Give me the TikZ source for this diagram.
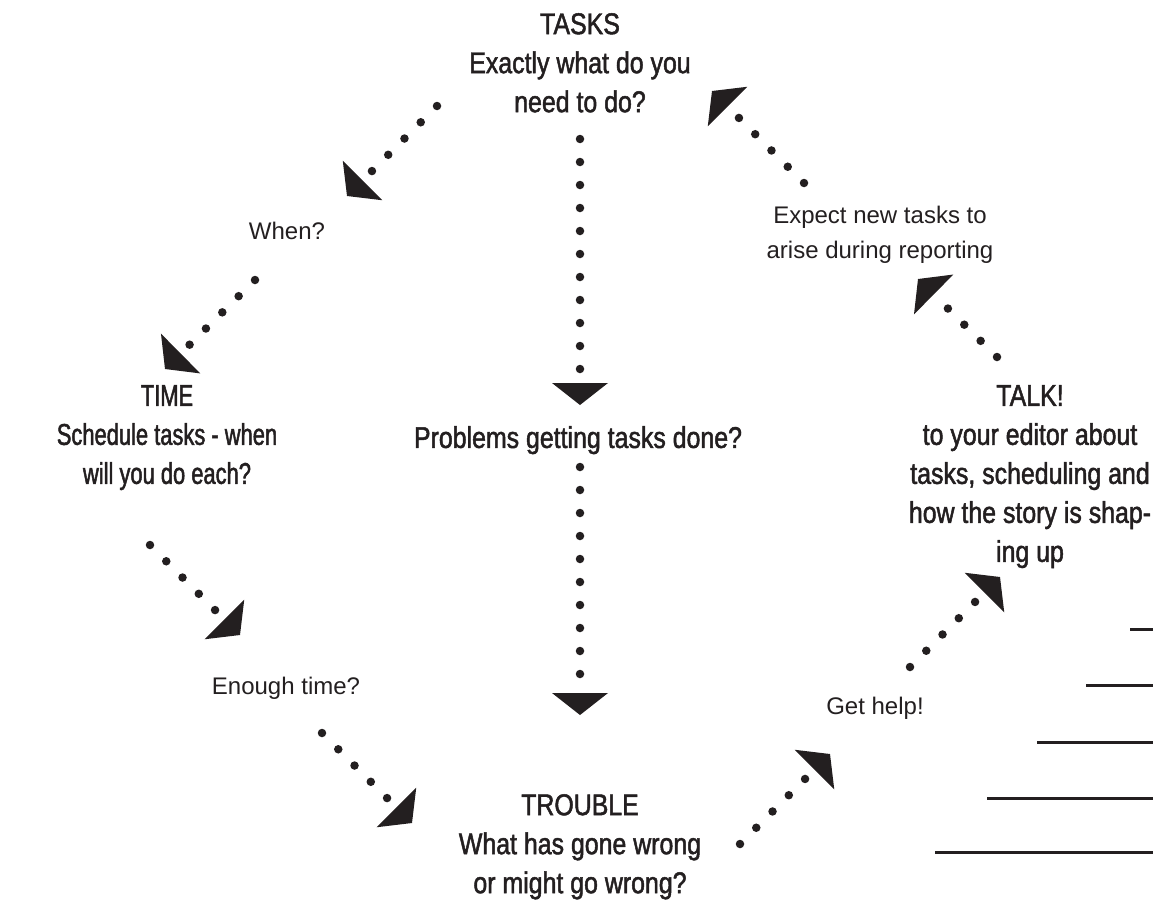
\documentclass[tikz,border=0pt]{standalone}
\usepackage{fontspec}
\setmainfont{Liberation Sans}
\newfontfamily\headfont{Liberation Sans}[FakeStretch=0.83,FakeBold=1.6]
\newfontfamily\narrowfont{Liberation Sans}[FakeStretch=0.73,FakeBold=1.6]
\usetikzlibrary{arrows.meta}
\definecolor{ink}{HTML}{231F20}

\tikzset{
  head/.style={font=\headfont\fontsize{30}{39}\selectfont, align=center, inner sep=0pt, anchor=north, text=ink},
  note/.style={font=\fontsize{24}{35}\selectfont, align=center, inner sep=0pt, anchor=north, text=ink},
  dotarrow/.style={draw=ink, line width=8.5pt, line cap=round, dash pattern=on 0pt off 23pt,
    -{Triangle[width=56pt,length=22pt,line width=0pt]}},
  rule/.style={draw=ink, line width=3pt}
}

\begin{document}
\begin{tikzpicture}[x=1pt,y=-1pt]
\useasboundingbox (0,0) rectangle (1153,905);

% texts
\node[head] (tasks) at (580,13) {TASKS\\Exactly what do you\\need to do?};
\node[head,font=\narrowfont\fontsize{30}{39}\selectfont] (time) at (167,385) {TIME\\Schedule tasks - when\\will you do each?};
\node[head] (problems) at (578,426) {Problems getting tasks done?};
\node[head] (trouble) at (580,794) {TROUBLE\\What has gone wrong\\or might go wrong?};
\node[head] (talk) at (1030,385) {TALK!\\to your editor about\\tasks, scheduling and\\how the story is shap-\\ing up};
\node[note] (when) at (287,222) {When?};
\node[note] (enough) at (286,677) {Enough time?};
\node[note] (gethelp) at (875,697) {Get help!};
\node[note] (expect) at (880,206) {Expect new tasks to\\arise during reporting};

% arrow ends
\coordinate (a1s) at (437,106); \coordinate (a1e) at (347,196);
\coordinate (a2s) at (255,280); \coordinate (a2e) at (165,369);
\coordinate (a3s) at (150,545); \coordinate (a3e) at (240,635);
\coordinate (a4s) at (322,733); \coordinate (a4e) at (412,823);
\coordinate (a5s) at (740,844); \coordinate (a5e) at (830,754);
\coordinate (a6s) at (910,667); \coordinate (a6e) at (1000,577);
\coordinate (a7s) at (997,357); \coordinate (a7e) at (918,279);
\coordinate (a8s) at (804,183); \coordinate (a8e) at (712,91);
\coordinate (v1s) at (580,139); \coordinate (v1e) at (580,405);
\coordinate (v2s) at (580,467); \coordinate (v2e) at (580,715);

% dotted arrows
\draw[dotarrow] (a1s) -- (a1e);
\draw[dotarrow] (a2s) -- (a2e);
\draw[dotarrow] (a3s) -- (a3e);
\draw[dotarrow] (a4s) -- (a4e);
\draw[dotarrow] (a5s) -- (a5e);
\draw[dotarrow] (a6s) -- (a6e);
\draw[dotarrow] (a7s) -- (a7e);
\draw[dotarrow] (a8s) -- (a8e);
\draw[dotarrow] (v1s) -- (v1e);
\draw[dotarrow] (v2s) -- (v2e);

% rules at the right
\draw[rule] (1130,629) -- (1153,629);
\draw[rule] (1086,685) -- (1153,685);
\draw[rule] (1037,742) -- (1153,742);
\draw[rule] (987,798) -- (1153,798);
\draw[rule] (935,852) -- (1153,852);
\end{tikzpicture}
\end{document}
